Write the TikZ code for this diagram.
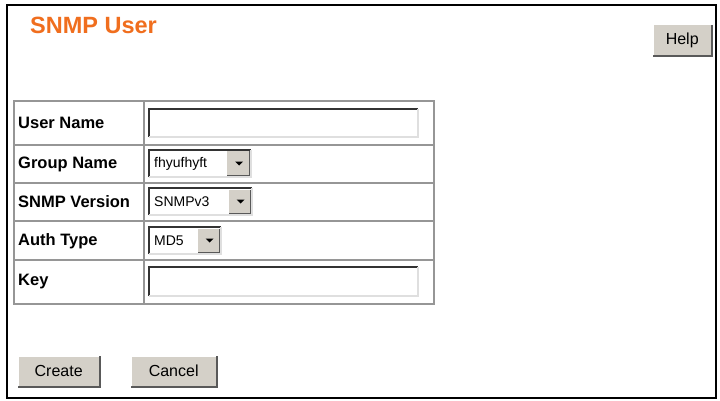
\documentclass[tikz,border=0pt]{standalone}
\usepackage{fontspec}
\setmainfont{Liberation Sans}
\definecolor{ttl}{RGB}{240,110,30}
\definecolor{btn}{RGB}{212,208,200}
\definecolor{cellg}{RGB}{150,150,150}
\begin{document}
\begin{tikzpicture}[x=1pt,y=-1pt,
  lbl/.style={anchor=west,font=\bfseries\fontsize{16.5}{18}\selectfont,inner sep=0},
  val/.style={anchor=west,font=\fontsize{14}{16}\selectfont,inner sep=0},
  button/.style={fill=btn,draw=none,font=\fontsize{16}{18}\selectfont,inner sep=0,minimum height=30,anchor=north west}]
\useasboundingbox (0,0) rectangle (720,401);
\fill[white] (0,0) rectangle (720,401);
\draw[line width=2.2] (7,5) rectangle (716,398);
\node[anchor=west,text=ttl,font=\bfseries\fontsize{23.5}{26}\selectfont,inner sep=0] (title) at (30,25) {SNMP User};
% buttons
\newcommand{\btnbox}[6]{%
  \node[button,minimum width=#3] (#5) at (#1,#2) {#6};
  \draw[gray!70!black,line width=1.2] ([xshift=0.6]#5.north east) -- ([xshift=0.6,yshift=-0.6]#5.south east) -- ([yshift=-0.6]#5.south west);
  \draw[white,line width=1] (#5.south west) -- (#5.north west) -- (#5.north east);}
\btnbox{653}{25}{58}{}{help}{Help}
\btnbox{18}{356}{81}{}{create}{Create}
\btnbox{131}{356}{85}{}{cancel}{Cancel}
% table
\draw[cellg,line width=2] (14,101) rectangle (434,304);
\foreach \y in {145,183,221,260} \draw[cellg,line width=1.6] (14,\y) -- (434,\y);
\draw[cellg,line width=1.6] (144,101) -- (144,304);
\node[lbl] (l1) at (18,123) {User Name};
\node[lbl] (l2) at (18,164) {Group Name};
\node[lbl] (l3) at (18,202) {SNMP Version};
\node[lbl] (l4) at (18,241) {Auth Type};
\node[lbl] (l5) at (18,282) {Key};
% text boxes
\newcommand{\sunken}[4]{%
  \fill[white] (#1,#2) rectangle (#3,#4);
  \draw[gray!40!black,line width=1.6] (#1,#4) -- (#1,#2) -- (#3,#2);
  \draw[gray!25,line width=1.2] (#1,#4) -- (#3,#4) -- (#3,#2);}
\sunken{149}{109}{418}{137}
\sunken{149}{267}{418}{296}
\newcommand{\dropdown}[5]{%
  \sunken{149}{#1}{#2}{#3}
  \fill[btn] (#4,#1+1.5) rectangle (#2-1.5,#3-1.5);
  \draw[gray!70!black,line width=1] (#2-1.5,#1+1.5) -- (#2-1.5,#3-1.5) -- (#4,#3-1.5);
  \fill[black] ({(#4+#2)/2-4},{(#1+#3)/2-2}) -- ++(8,0) -- ++(-4,4) -- cycle;
  \node[val] at (154,{(#1+#3)/2}) {#5};}
\dropdown{150}{251}{177}{227}{fhyufhyft}
\dropdown{188}{252}{215}{229}{SNMPv3}
\dropdown{227}{221}{254}{198}{MD5}
\end{tikzpicture}
\end{document}
